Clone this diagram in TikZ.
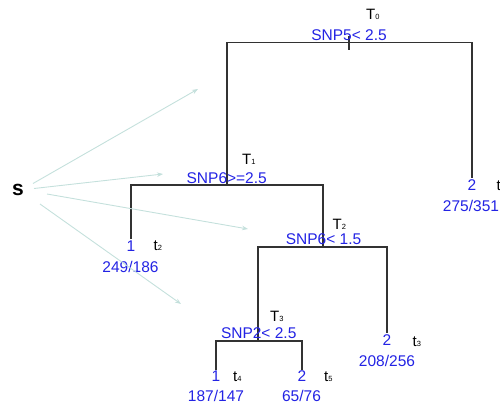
\documentclass[tikz,border=0pt]{standalone}
\usepackage{fontspec}
\setmainfont{Liberation Sans}
\usetikzlibrary{arrows.meta}
\definecolor{splitblue}{RGB}{35,35,228}
\definecolor{branchgrey}{RGB}{50,50,50}
\definecolor{arrowteal}{RGB}{196,224,220}
\newcommand{\subnum}[1]{{\fontsize{7.5}{8}\selectfont #1}}
\tikzset{
  branch/.style={draw=branchgrey,line width=1.3pt},
  splittext/.style={text=splitblue,inner sep=0pt,anchor=base,font=\fontsize{15.5}{18}\selectfont},
  leaftext/.style={text=splitblue,inner sep=0pt,anchor=base,font=\fontsize{15.5}{18}\selectfont},
  tlabel/.style={text=black,inner sep=0pt,anchor=base west,font=\fontsize{15}{17}\selectfont},
  pointer/.style={draw=arrowteal,line width=0.9pt,-{Stealth[length=6pt,width=4.5pt]}},
}
\begin{document}
\begin{tikzpicture}[x=1pt,y=-1pt]
\useasboundingbox (0,0) rectangle (500,407);
% split points
\coordinate (r0) at (349,42.5);
\coordinate (r1) at (227,185);
\coordinate (r2) at (323,247);
\coordinate (r3) at (258,341);
% leaf tops
\coordinate (e1) at (472,178);
\coordinate (e2) at (131,239);
\coordinate (e3) at (387,333);
\coordinate (e4) at (216,370);
\coordinate (e5) at (302,370);
\coordinate (stubtop) at (349,36);
\coordinate (stubbot) at (349,50);
% branches
\draw[branch] (r1) |- (r0) -| (e1);
\draw[branch] (stubtop) -- (stubbot);
\draw[branch] (e2) |- (r1) -| (r2);
\draw[branch] (r3) |- (r2) -| (e3);
\draw[branch] (e4) |- (r3) -| (e5);
% split labels
\node[splittext] (sp0) at (349,40) {SNP5< 2.5};
\node[splittext] (sp1) at (226.7,183) {SNP6>=2.5};
\node[splittext] (sp2) at (323.5,244.3) {SNP6< 1.5};
\node[splittext] (sp3) at (258.7,338.3) {SNP2< 2.5};
\node[tlabel] (T0) at (366,19) {T\subnum{0}};
\node[tlabel] (T1) at (242,164.5) {T\subnum{1}};
\node[tlabel] (T2) at (332.5,229.5) {T\subnum{2}};
\node[tlabel] (T3) at (270,321) {T\subnum{3}};
% leaves
\node[leaftext] (l1) at (472,190) {2};
\node[leaftext] (c1) at (471,211.7) {275/351};
\node[tlabel] (t1) at (496.5,190) {t};
\node[leaftext] (l2) at (131,251) {1};
\node[leaftext] (c2) at (130.5,272.7) {249/186};
\node[tlabel] (t2) at (153.5,250.7) {t\subnum{2}};
\node[leaftext] (l3) at (387,345.7) {2};
\node[leaftext] (c3) at (387,366) {208/256};
\node[tlabel] (t3) at (412.5,346) {t\subnum{3}};
\node[leaftext] (l4) at (216,381) {1};
\node[leaftext] (c4) at (216,401.7) {187/147};
\node[tlabel] (t4) at (233,381.5) {t\subnum{4}};
\node[leaftext] (l5) at (302,381) {2};
\node[leaftext] (c5) at (301.5,401.7) {65/76};
\node[tlabel] (t5) at (324,381.5) {t\subnum{5}};
% source
\node[inner sep=0pt,anchor=base,font=\fontsize{21}{23}\bfseries] (s) at (18,195) {s};
\coordinate (a1s) at (33,183.5);
\coordinate (a1e) at (198,89);
\coordinate (a2s) at (34,188.5);
\coordinate (a2e) at (163,174);
\coordinate (a3s) at (47,194);
\coordinate (a3e) at (248,229);
\coordinate (a4s) at (40,204);
\coordinate (a4e) at (181,304);
\draw[pointer] (a1s) -- (a1e);
\draw[pointer] (a2s) -- (a2e);
\draw[pointer] (a3s) -- (a3e);
\draw[pointer] (a4s) -- (a4e);
\end{tikzpicture}
\end{document}
